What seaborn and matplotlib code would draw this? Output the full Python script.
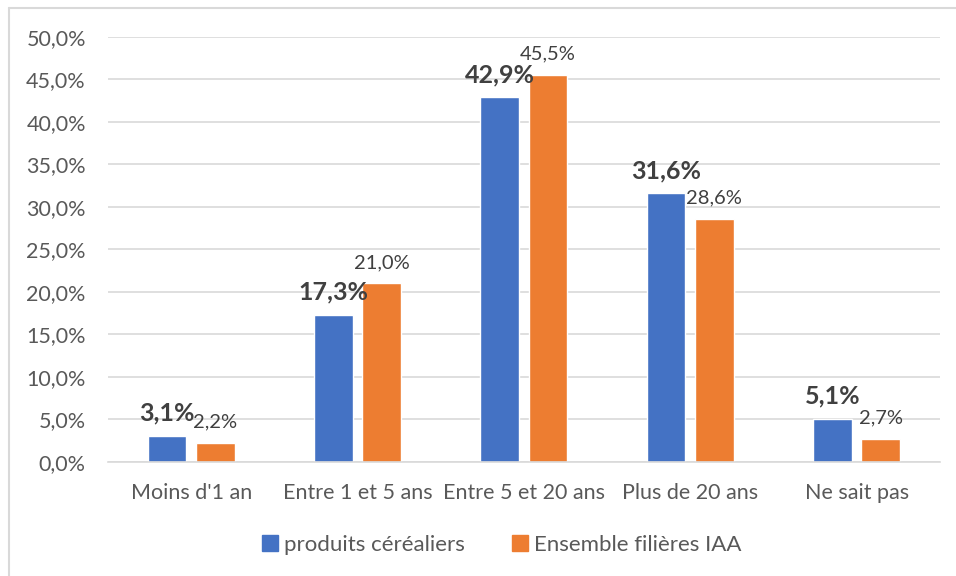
import pandas as pd
import matplotlib.pyplot as plt
from matplotlib.lines import Line2D
import seaborn as sns

categories = ["Moins d'1 an", "Entre 1 et 5 ans", "Entre 5 et 20 ans", "Plus de 20 ans", "Ne sait pas"]
cereales = [3.1, 17.3, 42.9, 31.6, 5.1]
ensemble_iaa = [2.2, 21.0, 45.5, 28.6, 2.7]
series_names = ["produits céréaliers", "Ensemble filières IAA"]
y_ticks = [0, 5, 10, 15, 20, 25, 30, 35, 40, 45, 50]

colors = ["#4472C4", "#ED7D31"]
text_col = "#595959"

df = pd.DataFrame({
    "categorie": categories * 2,
    "valeur": cereales + ensemble_iaa,
    "serie": [series_names[0]] * 5 + [series_names[1]] * 5,
})

sns.set_style("white")
plt.rcParams["font.family"] = ["Lato", "DejaVu Sans"]

fig = plt.figure(figsize=(9.56, 5.76), dpi=100)
ax = fig.add_axes([0.113, 0.198, 0.87, 0.738])

sns.barplot(data=df, x="categorie", y="valeur", hue="serie", order=categories,
            hue_order=series_names, palette=colors, width=0.58, gap=0.2,
            saturation=1, ax=ax, legend=False)

# data labels
fmt = lambda v: f"{v:.1f}%".replace(".", ",")
ax.bar_label(ax.containers[0], labels=[fmt(v) for v in cereales], padding=8,
             fontsize=18, fontweight="bold", color="#404040")
ax.bar_label(ax.containers[1], labels=[fmt(v) for v in ensemble_iaa], padding=9,
             fontsize=14.5, color="#404040")

ax.set_ylim(0, 50)
ax.set_xlim(-0.5, 4.5)
ax.set_yticks(y_ticks)
ax.set_yticklabels([f"{t:.1f}%".replace(".", ",") for t in y_ticks])
ax.grid(axis="y", color="#d9d9d9", linewidth=1.2)
ax.set_axisbelow(True)
for s in ["top", "right", "left"]:
    ax.spines[s].set_visible(False)
ax.spines["bottom"].set_color("#d9d9d9")
ax.spines["bottom"].set_linewidth(1.2)
ax.tick_params(axis="both", length=0, labelsize=15.5, colors=text_col)
ax.tick_params(axis="y", pad=16)
ax.tick_params(axis="x", pad=15)
ax.set_xlabel("")
ax.set_ylabel("")

handles = [Line2D([], [], marker="s", linestyle="", markersize=11,
                  markerfacecolor=c, markeredgecolor=c) for c in colors]
fig.legend(handles, series_names, loc="center", bbox_to_anchor=(0.525, 0.054),
           ncol=2, frameon=False, fontsize=16, labelcolor=text_col,
           handlelength=0.7, handletextpad=0.3, columnspacing=2.1)

# chart area border (left and top visible)
fig.add_artist(Line2D([0.009, 0.009], [0, 0.986], color="#d9d9d9", linewidth=1.5))
fig.add_artist(Line2D([0.009, 1], [0.986, 0.986], color="#d9d9d9", linewidth=1.5))

fig.savefig("out.png", dpi=100)
